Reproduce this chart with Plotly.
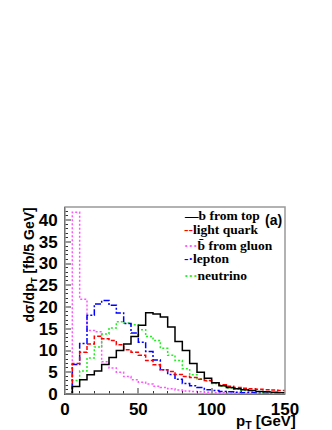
import plotly.graph_objects as go

# pT bins [GeV], 5 GeV wide
pt_edges = list(range(0, 155, 5))

# dsigma/dpT [fb/5 GeV] per bin
b_from_top = [0, 1.7, 3.3, 4.4, 5.3, 6.8, 8.4, 10.0, 11.5, 13.2, 15.8, 18.7, 18.4, 17.7, 15.4,
              12.1, 10.0, 7.0, 5.0, 3.6, 2.6, 1.9, 1.5, 1.2, 1.0, 0.8, 0.6, 0.5, 0.4, 0.3]
light_quark = [0, 7.0, 9.6, 11.5, 13.3, 12.7, 12.3, 11.3, 10.2, 9.6, 8.9, 7.7, 6.7, 5.6, 5.2,
               4.5, 4.0, 3.8, 3.4, 3.1, 2.6, 2.1, 1.8, 1.5, 1.3, 1.2, 1.1, 1.0, 0.9, 0.8]
bbar_gluon = [0, 41.8, 21.8, 14.6, 14.3, 7.4, 6.0, 5.0, 4.0, 3.3, 2.7, 2.3, 1.8, 1.5, 1.2,
              0.9, 0.7, 0.6, 0.5, 0.4, 0.3, 0.3, 0.2, 0.2, 0.2, 0.1, 0.1, 0.1, 0.1, 0.1]
lepton = [0, 6.8, 11.6, 18.1, 20.7, 21.5, 20.4, 18.6, 16.2, 14.0, 11.9, 9.8, 7.8, 5.6, 4.5,
          3.4, 2.4, 1.9, 1.5, 1.0, 0.8, 0.6, 0.5, 0.4, 0.3, 0.3, 0.2, 0.2, 0.1, 0.1]
neutrino = [0, 3.1, 5.3, 8.3, 10.8, 13.8, 15.2, 16.6, 16.3, 15.9, 14.8, 13.2, 12.3, 10.5, 8.9,
            7.7, 5.8, 4.4, 3.5, 3.0, 2.4, 1.8, 1.4, 1.1, 0.8, 0.6, 0.5, 0.4, 0.3, 0.3]

series = [
    ("b from top", b_from_top, "black", "solid"),
    ("light quark", light_quark, "#ff0000", "4px,2px"),
    ("b\u0304 from gluon", bbar_gluon, "#ff55ff", "2px,2px"),
    ("lepton", lepton, "#0000ff", "6px,2px,2px,2px"),
    ("neutrino", neutrino, "#22ee22", "2px,2px"),
]

fig = go.Figure()
# back-to-front, like the original
for name, vals, col, dash in [series[2], series[4], series[3], series[1], series[0]]:
    fig.add_trace(go.Scatter(
        x=pt_edges,
        y=vals + [vals[-1]],
        mode="lines",
        line=dict(color=col, width=1.5, dash=dash, shape="hv"),
        name=name,
        showlegend=False,
    ))

tickfont = dict(family="Liberation Sans", size=17, color="black", weight="bold")

# page body has an 8px margin, so the figure is 8px smaller and offsets are shifted
fig.update_layout(
    width=324, height=422,
    margin=dict(l=57, r=47, t=199, b=36),
    paper_bgcolor="white", plot_bgcolor="white",
    xaxis=dict(range=[0, 150], tickvals=[0, 50, 100, 150], ticks="inside", ticklen=6,
               tickwidth=2, tickcolor="#999", showline=True, linecolor="black", linewidth=1,
               showgrid=False, zeroline=False, tickfont=tickfont, automargin=False,
               minor=dict(dtick=10, ticks="inside", ticklen=3, tickcolor="#333", tickwidth=1)),
    yaxis=dict(range=[0, 43], tickvals=list(range(0, 45, 5)), ticks="inside", ticklen=6,
               tickwidth=2, tickcolor="#999", showline=True, linecolor="black", linewidth=1,
               showgrid=False, zeroline=False, tickfont=tickfont, ticklabelstandoff=3,
               automargin=False,
               minor=dict(dtick=1, ticks="inside", ticklen=3, tickcolor="#333", tickwidth=1)),
    shapes=[dict(type="rect", xref="paper", yref="paper", x0=0, x1=1, y0=0, y1=1,
                 line=dict(color="#999", width=1.5))],
)

# axis titles
fig.add_annotation(text="<b>dσ/dp<sub>T</sub> [fb/5 GeV]</b>", textangle=-90,
                   xref="paper", yref="paper", x=-0.16, y=1.01, xanchor="center", yanchor="top",
                   showarrow=False, font=dict(family="Liberation Sans", size=14, color="black"))
fig.add_annotation(text="<b>p<sub>T</sub> [GeV]</b>", xref="paper", yref="paper",
                   x=1.06, y=-0.085, xanchor="right", yanchor="top", showarrow=False,
                   font=dict(family="Liberation Sans", size=15, color="black"))
fig.add_annotation(text="<b>(a)</b>", xref="paper", yref="paper", x=0.995, y=0.985,
                   xanchor="right", yanchor="top", showarrow=False,
                   font=dict(family="Liberation Sans", size=14, color="black"))

# legend
symbols = ["\u2014", "--", "\u00b7\u00b7\u00b7", "-\u00b7", "\u00b7\u00b7\u00b7"]
leg_y = [0.955, 0.88, 0.795, 0.722, 0.635]
for (name, vals, col, dash), sym, ly in zip(series, symbols, leg_y):
    fig.add_annotation(text=f"<b><span style='color:{col}'>{sym}</span>{name}</b>",
                       xref="paper", yref="paper", x=0.53, y=ly, xanchor="left", yanchor="middle",
                       showarrow=False,
                       font=dict(family="Liberation Serif", size=13.5, color="black"))

fig.write_html("out.html")
